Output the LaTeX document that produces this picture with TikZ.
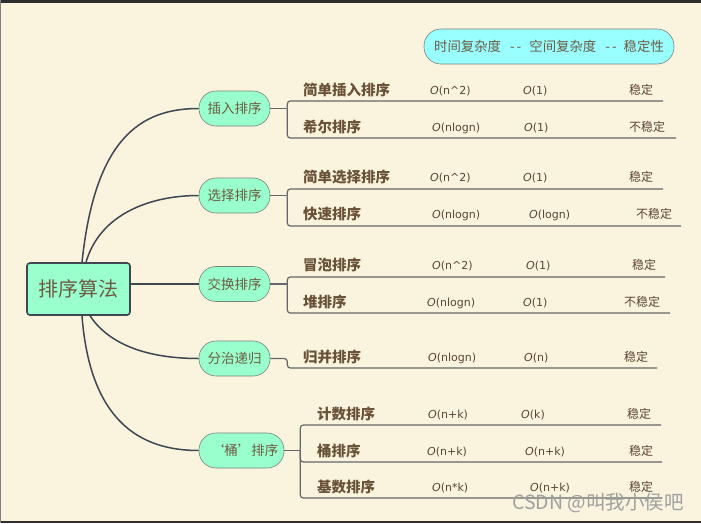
\documentclass[tikz,border=0pt]{standalone}
\usepackage{fontspec}
\setmainfont{DejaVu Sans}
\newfontfamily\cjk{Noto Sans CJK SC}
\definecolor{bgc}{RGB}{250,243,222}
\definecolor{framec}{RGB}{45,45,45}
\definecolor{leftc}{RGB}{130,130,130}
\definecolor{mint}{RGB}{153,255,204}
\definecolor{cyanc}{RGB}{153,255,255}
\definecolor{linec}{RGB}{62,71,82}
\definecolor{connc}{RGB}{100,104,108}
\definecolor{pillline}{RGB}{120,130,125}
\definecolor{txtc}{RGB}{110,90,68}
\definecolor{namec}{RGB}{105,82,55}
\definecolor{statc}{RGB}{90,70,50}
\definecolor{wmc}{RGB}{160,160,160}
\newcommand\Oo[1]{\textit{O}(#1)}
\tikzset{
 rootbox/.style={draw=linec, line width=1.6pt, fill=mint, rounded corners=3pt, minimum width=103pt, minimum height=52pt, inner sep=0pt, font=\cjk\fontsize{20}{24}\selectfont, text=txtc},
 pill/.style={draw=pillline, line width=0.6pt, fill=mint, rounded corners=17pt, minimum height=35pt, minimum width=71pt, inner sep=0pt, font=\cjk\fontsize{13.5}{16}\selectfont, text=txtc},
 hdrbox/.style={pill, fill=cyanc, minimum width=250pt, font=\cjk\fontsize{13.4}{16}\selectfont},
 itemname/.style={anchor=base west, inner sep=0pt, font=\cjk\bfseries\fontsize{14.5}{16}\selectfont, text=namec},
 stat/.style={anchor=base west, inner sep=0pt, font=\fontsize{11}{13}\selectfont, text=statc},
 stab/.style={anchor=base west, inner sep=0pt, font=\cjk\fontsize{12}{14}\selectfont, text=statc},
 mainline/.style={draw=linec, line width=1.5pt},
 conn/.style={draw=connc, line width=1.2pt},
}
\begin{document}
\begin{tikzpicture}[x=1pt,y=-1pt]
\fill[bgc] (0,0) rectangle (701,523);
\fill[framec] (0,0) rectangle (701,3);
\fill[framec] (0,521) rectangle (701,523);
\fill[leftc] (0,0) rectangle (1.2,523);
\useasboundingbox (0,0) rectangle (701,523);

% header
\node[hdrbox] (hdr) at (549,46.5) {时间复杂度\hspace{9pt}{-}\hspace{2pt}{-}\hspace{8pt}空间复杂度\hspace{9pt}{-}\hspace{2pt}{-}\hspace{7pt}稳定性};

% root and level 1
\node[rootbox] (root) at (78.5,289) {排序算法};
\node[pill] (l1a) at (234.5,108.5) {插入排序};
\node[pill] (l1b) at (234.5,195.5) {选择排序};
\node[pill] (l1c) at (234.5,284) {交换排序};
\node[pill] (l1d) at (234.5,358.5) {分治递归};
\node[pill, minimum width=85pt] (l1e) at (241.5,450.5) {\hspace{6pt}‘桶’排序};

\draw[mainline] ([xshift=3.5pt]root.north) .. controls +(13,-123) and +(-59,0) .. (l1a.west);
\draw[mainline] ([xshift=7.5pt]root.north) .. controls +(14,-48) and +(-49,0) .. (l1b.west);
\draw[mainline] (root.east |- l1c.west) -- (l1c.west);
\draw[mainline] ([xshift=11.5pt]root.south) .. controls +(20,30) and +(-49,0) .. (l1d.west);
\draw[mainline] ([xshift=3.5pt]root.south) .. controls +(8,105) and +(-59,0) .. (l1e.west);

% level 2 rows
\foreach \id/\nm/\nx/\cy/\uy/\ax/\at/\bx/\bt/\sx/\st/\ex in {
 1/简单插入排序/303/90/101/430/{\Oo{n\textasciicircum2}}/523/{\Oo{1}}/629/稳定/663,
 2/希尔排序/303/127/138/432/{\Oo{nlogn}}/524/{\Oo{1}}/629/不稳定/676,
 3/简单选择排序/303/177/189/430/{\Oo{n\textasciicircum2}}/523/{\Oo{1}}/629/稳定/663,
 4/快速排序/303/214/226/432/{\Oo{nlogn}}/529/{\Oo{logn}}/636/不稳定/681,
 5/冒泡排序/303/265/277/432/{\Oo{n\textasciicircum2}}/526/{\Oo{1}}/632/稳定/665,
 6/堆排序/303/302/313/427/{\Oo{nlogn}}/523/{\Oo{1}}/624/不稳定/670,
 7/归并排序/303/357/368/428/{\Oo{nlogn}}/524/{\Oo{n}}/624/稳定/657,
 8/计数排序/317/414/425/428/{\Oo{n+k}}/521/{\Oo{k}}/627/稳定/661,
 9/桶排序/317/451/462/427/{\Oo{n+k}}/525/{\Oo{n+k}}/629/稳定/662,
 10/基数排序/317/487/498/432/{\Oo{n*k}}/530/{\Oo{n+k}}/629/稳定/662}
{
 \node[itemname] (n\id) at (\nx,\cy+5.5) {\nm};
 \node[stat] (s\id) at (\ax,\cy+4.5) {\at};
 \node[stat] (t\id) at (\bx,\cy+4.5) {\bt};
 \node[stab] (u\id) at (\sx,\cy+4.5) {\st};
 \coordinate (e\id) at (\ex,\uy);
}

% brackets
\coordinate (ka) at ([xshift=17pt]l1a.east);
\coordinate (kb) at ([xshift=17pt]l1b.east);
\coordinate (kc) at ([xshift=17pt]l1c.east);
\coordinate (kd) at ([xshift=17pt]l1d.east);
\coordinate (ke) at ([xshift=16pt]l1e.east);
\draw[conn] (l1a.east) -- (ka);
\draw[conn, rounded corners=3pt] (ka) |- (e1);
\draw[conn, rounded corners=3pt] (ka) |- (e2);
\draw[conn] (l1b.east) -- (kb);
\draw[conn, rounded corners=3pt] (kb) |- (e3);
\draw[conn, rounded corners=3pt] (kb) |- (e4);
\draw[conn] (l1c.east) -- (kc);
\draw[conn, rounded corners=3pt] (kc) |- (e5);
\draw[conn, rounded corners=3pt] (kc) |- (e6);
\draw[conn, rounded corners=3pt] (l1d.east) -- (kd) |- (e7);
\draw[conn] (l1e.east) -- (ke);
\draw[conn, rounded corners=3pt] (ke) |- (e8);
\draw[conn, rounded corners=3pt] (ke) |- (e9);
\draw[conn, rounded corners=3pt] (ke) |- (e10);

% watermark
\node[anchor=west, inner sep=0pt, font=\cjk\fontsize{19.5}{22}\selectfont, text=wmc] (wm) at (512,503) {CSDN @叫我小侯吧};
\end{tikzpicture}
\end{document}
